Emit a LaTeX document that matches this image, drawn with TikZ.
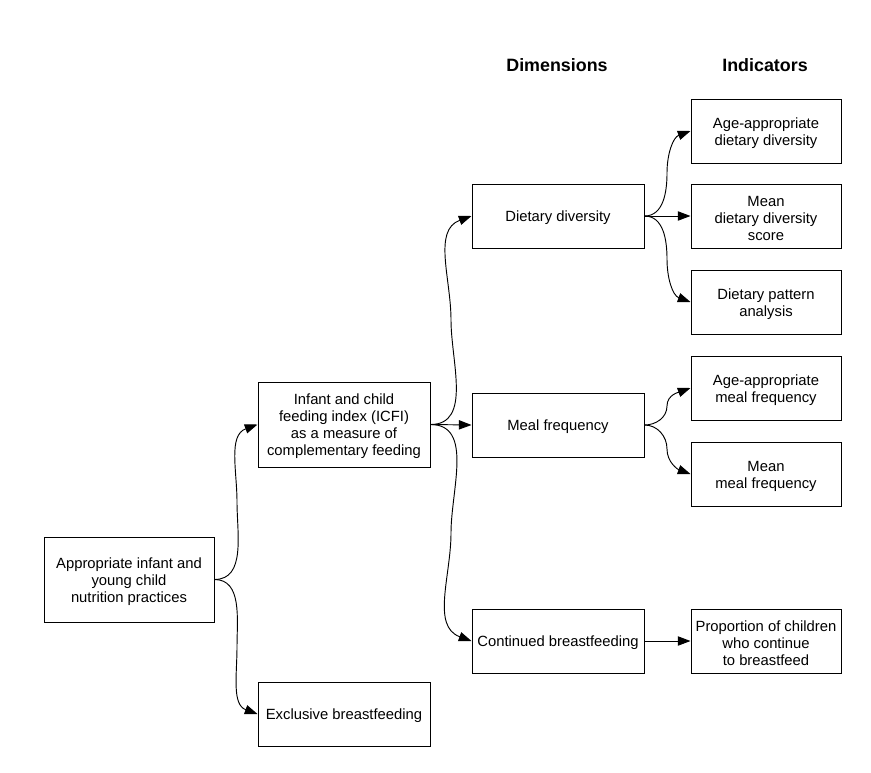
\documentclass[tikz,border=0pt]{standalone}
\usepackage{fontspec}
\setmainfont{Liberation Sans}
\usetikzlibrary{arrows.meta}
\begin{document}
\begin{tikzpicture}[x=0.75pt,y=-0.75pt,
  frame/.style={draw,line width=0.75pt,rectangle,inner sep=0pt},
  txt/.style={align=center,inner sep=0pt,yshift=-1.6pt,
    font=\fontsize{11.1}{12.75}\selectfont},
  box/.style={frame,label={[txt]center:#1}},
  wbox/.style={box=#1,minimum width=129pt},
  ibox/.style={box=#1,minimum width=112.5pt,minimum height=48pt},
  head/.style={font=\fontsize{13.4}{15}\selectfont\bfseries},
  link/.style={line width=0.7pt,-{Triangle[length=9.5pt,width=7pt]}}]
\useasboundingbox (0,0) rectangle (871,772);

% headings
\node[head] (hdim) at (557,65) {Dimensions};
\node[head] (hind) at (765,65) {Indicators};

% practices and their two components
\node[box={Appropriate infant and\\young child\\nutrition practices},
  minimum width=127.5pt,minimum height=63.75pt] (root) at (129,579.5) {};
\node[wbox={Infant and child\\feeding index (ICFI)\\as a measure of\\complementary feeding},
  minimum height=63.75pt] (icfi) at (344,424.5) {};
\node[wbox={Exclusive breastfeeding},minimum height=48pt] (excl) at (344,714) {};

% dimensions
\node[wbox={Dietary diversity},minimum height=48pt] (dd) at (558,216) {};
\node[wbox={Meal frequency},minimum height=48pt] (mf) at (558,425) {};
\node[wbox={Continued breastfeeding},minimum height=48pt] (cb) at (558,641) {};

% indicators
\node[ibox={Age-appropriate\\dietary diversity}] (i1) at (766,131) {};
\node[ibox={Mean\\dietary diversity\\score}] (i2) at (766,216) {};
\node[ibox={Dietary pattern\\analysis}] (i3) at (766,302) {};
\node[ibox={Age-appropriate\\meal frequency}] (i4) at (766,388) {};
\node[ibox={Mean\\meal frequency}] (i5) at (766,474) {};
\node[ibox={Proportion of children\\who continue\\to breastfeed}] (i6) at (766,641) {};

% branch points
\coordinate (m1) at (237,502);
\coordinate (m2) at (237,647);
\coordinate (m3) at (451,320);
\coordinate (m4) at (451,533);
\coordinate (m5) at (667,173);
\coordinate (m6) at (667,259);
\coordinate (m7) at (667,406);
\coordinate (m8) at (667,449);

% curved connectors
\draw[link] (root.east) to[out=0,in=-90] (m1) to[out=90,in=200] (icfi.west);
\draw[link] (root.east) to[out=0,in=90] (m2) to[out=-90,in=160] (excl.west);
\draw[link] (icfi.east) to[out=0,in=-90] (m3) to[out=90,in=200] (dd.west);
\draw[link] (icfi.east) to[out=0,in=90] (m4) to[out=-90,in=160] (cb.west);
\draw[link] (dd.east) to[out=0,in=-90] (m5) to[out=90,in=200] (i1.west);
\draw[link] (dd.east) to[out=0,in=90] (m6) to[out=-90,in=160] (i3.west);
\draw[link] (mf.east) to[out=0,in=-90] (m7) to[out=90,in=200] (i4.west);
\draw[link] (mf.east) to[out=0,in=90] (m8) to[out=-90,in=160] (i5.west);

% straight connectors
\draw[link] (icfi.east) -- (mf.west);
\draw[link] (dd.east) -- (i2.west);
\draw[link] (cb.east) -- (i6.west);
\end{tikzpicture}
\end{document}
